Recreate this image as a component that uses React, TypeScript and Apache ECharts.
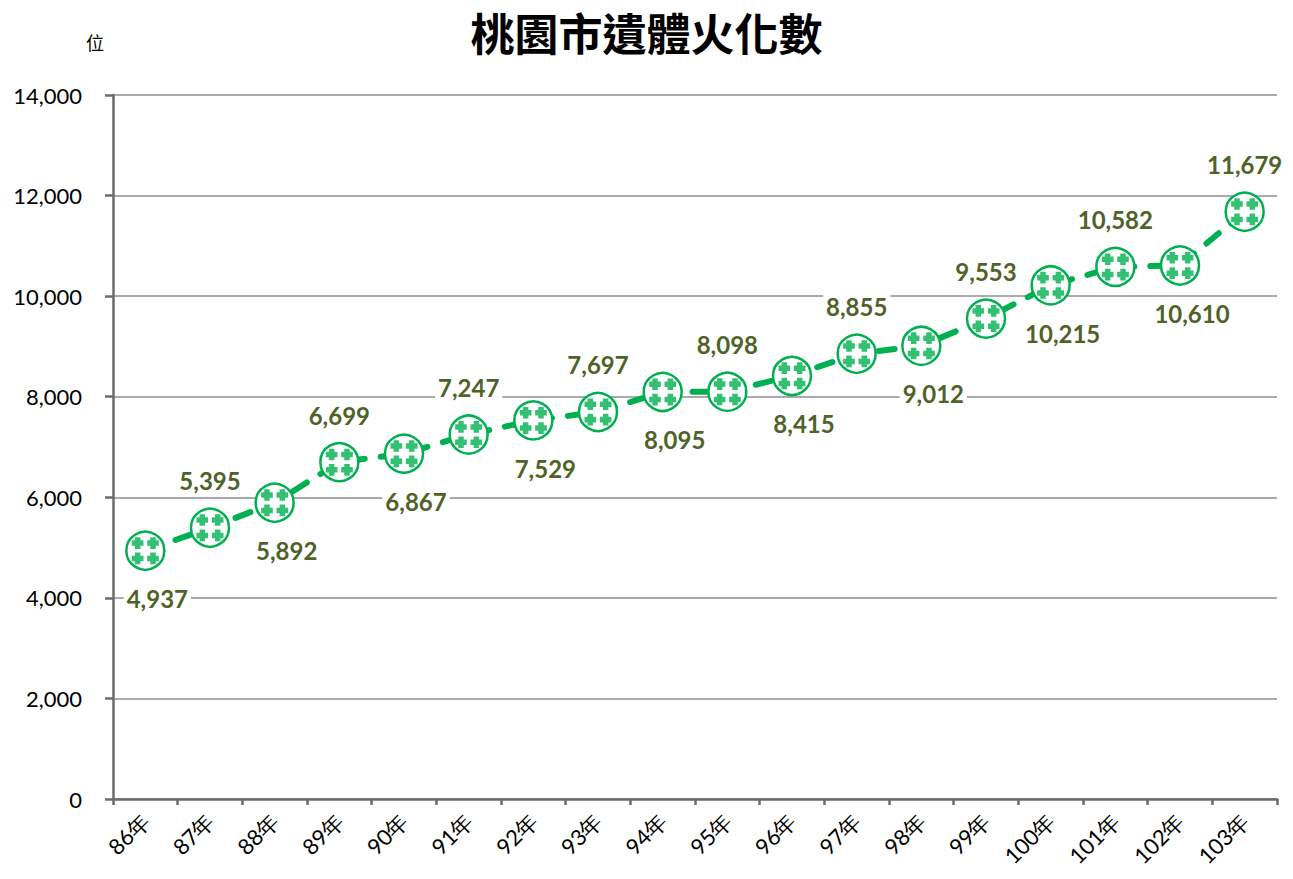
import React, { useEffect, useRef } from "react";
import * as echarts from "echarts";

const years = ["86年","87年","88年","89年","90年","91年","92年","93年","94年","95年","96年","97年","98年","99年","100年","101年","102年","103年"];
const cremations = [4937,5395,5892,6699,6867,7247,7529,7697,8095,8098,8415,8855,9012,9553,10215,10582,10610,11679];
const labelAbove = [false,true,false,true,false,true,false,true,false,true,false,true,false,true,false,true,false,true];
const yTicks = { min: 0, max: 14000, interval: 2000 };

const plusPath = (cx: number, cy: number) =>
  `M${cx - 2.6} ${cy - 5.5}h5.2v2.9h2.9v5.2h-2.9v2.9h-5.2v-2.9h-2.9v-5.2h2.9Z`;
const patternSymbol =
  "path://" + [plusPath(5.5, 5.5), plusPath(20, 5.5), plusPath(5.5, 20), plusPath(20, 20)].join("");

export default function App() {
  const ref = useRef<HTMLDivElement>(null);
  useEffect(() => {
    if (!ref.current) return;
    const chart = echarts.init(ref.current, null, { renderer: "svg" });
    const green = "#00B050";
    const font = "Lato, 'Open Sans', sans-serif";
    chart.setOption({
      animation: false,
      backgroundColor: "#fff",
      title: {
        text: "桃園市遺體火化數",
        left: "center",
        top: 8,
        padding: 0,
        textStyle: {
          fontFamily: "'Noto Sans CJK TC', serif",
          fontSize: 44,
          lineHeight: 48,
          fontWeight: "bold",
          color: "#000",
        },
      },
      graphic: [
        {
          type: "text",
          left: 86,
          top: 33,
          style: { text: "位", fontSize: 18, fill: "#000", fontFamily: "'Noto Sans CJK TC', serif" },
        },
      ],
      grid: { left: 113, right: 16, top: 95, bottom: 80, containLabel: false },
      xAxis: {
        type: "category",
        data: years,
        boundaryGap: true,
        axisLine: { lineStyle: { color: "#6b6b6b", width: 2.5 } },
        axisTick: { show: true, length: 6, lineStyle: { color: "#6b6b6b", width: 2.5 } },
        axisLabel: { rotate: 45, fontSize: 22, color: "#000", fontFamily: font, margin: 18 },
      },
      yAxis: {
        type: "value",
        min: yTicks.min,
        max: yTicks.max,
        interval: yTicks.interval,
        axisLine: { show: true, lineStyle: { color: "#6b6b6b", width: 2.5 } },
        axisTick: { show: true, length: 8, lineStyle: { color: "#6b6b6b", width: 2.5 } },
        axisLabel: {
          fontSize: 22,
          color: "#000",
          fontFamily: font,
          margin: 31,
          formatter: (v: number) => v.toLocaleString("en-US"),
        },
        splitLine: { lineStyle: { color: "#AAAAAA", width: 2 } },
      },
      series: [
        {
          type: "line",
          data: cremations.map((v, i) => ({
            value: v,
            label: {
              show: true,
              position: "inside",
              offset: labelAbove[i] ? [0, -47] : [12, 48],
            },
          })),
          symbol: "circle",
          symbolSize: 38,
          itemStyle: { color: "#fff", borderColor: green, borderWidth: 2.5 },
          lineStyle: { color: green, width: 6, type: [16, 16], cap: "round" },
          label: {
            show: true,
            color: "#4F6228",
            fontSize: 24,
            fontWeight: "bold",
            fontFamily: font,
            backgroundColor: "#fff",
            padding: [0, 3],
            formatter: (p: any) => Number(p.value).toLocaleString("en-US"),
          },
          z: 2,
        },
        {
          type: "scatter",
          data: cremations,
          symbol: patternSymbol,
          symbolSize: 27,
          itemStyle: { color: green },
          silent: true,
          z: 3,
        },
      ],
    });
    return () => chart.dispose();
  }, []);
  return <div ref={ref} style={{ width: 1293, height: 879, position: "absolute", left: 0, top: 0 }} />;
}
